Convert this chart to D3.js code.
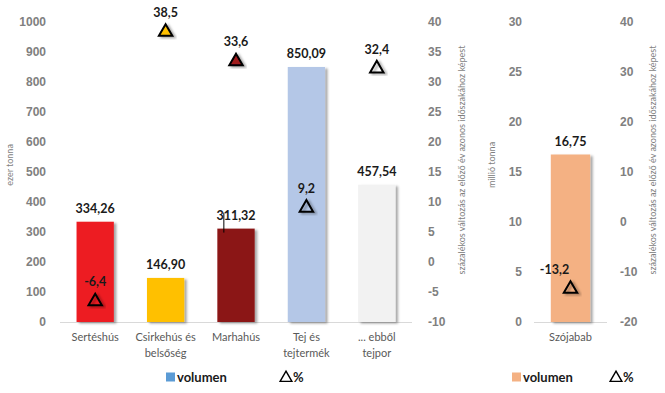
<!DOCTYPE html>
<html>
<head>
<meta charset="utf-8">
<script src="https://cdn.jsdelivr.net/npm/d3@7"></script>
<style>
  body { margin: 0; background: #fff; }
  svg { display: block; font-family: Lato, "Open Sans", sans-serif; }
  .tick text { fill: #808080; font-weight: bold; font-size: 12px; }
  .domain { display: none; }
</style>
</head>
<body>
<script>
// data
const categories = ["Sertéshús", "Csirkehús és belsőség", "Marhahús", "Tej és tejtermék", "... ebből tejpor"];
const categoryLines = [["Sertéshús"], ["Csirkehús és", "belsőség"], ["Marhahús"], ["Tej és", "tejtermék"], ["... ebből", "tejpor"]];
const volumes = [334.26, 146.90, 311.32, 850.09, 457.54];
const changes = [-6.4, 38.5, 33.6, 9.2, 32.4];
const barColors = ["#ed1c24", "#ffc000", "#8b1616", "#b4c7e7", "#f2f2f2"];
const markerFills = ["none", "#ffc000", "#a01a1f", "none", "none"];

const soyCategories = ["Szójabab"];
const soyVolumes = [16.75];
const soyChanges = [-13.2];

const volTicks = d3.range(0, 1001, 100);
const pctTicks = d3.range(-10, 41, 5);
const soyVolTicks = d3.range(0, 31, 5);
const soyPctTicks = d3.range(-20, 41, 10);

const W = 665, H = 393;
// Hungarian style: decimal comma, plain hyphen for minus
const comma = (f) => (v) => d3.format(f)(v).replace(".", ",").replace("\u2212", "-");
const plain = (v) => String(v);

const svg = d3.select("body").append("svg").attr("width", W).attr("height", H);

const defs = svg.append("defs");
defs.append("filter").attr("id", "shadow")
    .attr("x", "-20%").attr("y", "-20%").attr("width", "150%").attr("height", "150%")
  .append("feDropShadow")
    .attr("dx", 2.5).attr("dy", 1.5).attr("stdDeviation", 1.3)
    .attr("flood-color", "#000").attr("flood-opacity", 0.35);

function drawPanel(opt) {
  const g = svg.append("g");
  const x = d3.scaleBand().domain(opt.cats).range(opt.xRange)
      .paddingInner(opt.pad).paddingOuter(opt.pad / 2);
  const y = d3.scaleLinear().domain(opt.volDomain).range([322, 22]);
  const y2 = d3.scaleLinear().domain(opt.pctDomain).range([322, 22]);

  g.append("g").attr("transform", `translate(${opt.leftAxisX},0)`)
    .call(d3.axisLeft(y).tickValues(opt.volTicks).tickFormat(plain).tickSize(0).tickPadding(6));
  g.append("g").attr("transform", `translate(${opt.rightAxisX},0)`)
    .call(d3.axisRight(y2).tickValues(opt.pctTicks).tickFormat(plain).tickSize(0).tickPadding(6));

  // baseline
  g.append("line")
    .attr("x1", opt.xRange[0]).attr("x2", opt.xRange[1])
    .attr("y1", y(0) + 0.5).attr("y2", y(0) + 0.5)
    .attr("stroke", "#d9d9d9").attr("stroke-width", 1);

  // bars
  g.selectAll("rect.bar").data(opt.cats).enter().append("rect")
    .attr("class", "bar")
    .attr("x", d => x(d))
    .attr("y", (d, i) => y(opt.vols[i]))
    .attr("width", x.bandwidth())
    .attr("height", (d, i) => y(0) - y(opt.vols[i]))
    .attr("fill", (d, i) => opt.colors[i])
    .attr("filter", "url(#shadow)");

  // bar labels
  g.selectAll("text.vlab").data(opt.cats).enter().append("text")
    .attr("x", d => x(d) + x.bandwidth() / 2)
    .attr("y", (d, i) => y(opt.vols[i]) - 9)
    .attr("text-anchor", "middle")
    .attr("font-size", 12.5).attr("font-weight", "bold").attr("fill", "#1a1a1a")
    .text((d, i) => comma(".2f")(opt.vols[i]));

  // triangle markers
  const tri = d3.symbol().type(d3.symbolTriangle).size(78);
  g.selectAll("path.mk").data(opt.cats).enter().append("path")
    .attr("transform", (d, i) => `translate(${x(d) + x.bandwidth() / 2},${y2(opt.pcts[i]) + 1})`)
    .attr("d", tri)
    .attr("fill", (d, i) => opt.markerFills[i])
    .attr("stroke", "#000").attr("stroke-width", 2)
    .attr("stroke-linejoin", "miter")
    .attr("filter", "url(#shadow)");

  g.selectAll("text.plab").data(opt.cats).enter().append("text")
    .attr("x", d => x(d) + x.bandwidth() / 2 + opt.pctLabelDx)
    .attr("y", (d, i) => y2(opt.pcts[i]) - 14)
    .attr("text-anchor", "middle")
    .attr("font-size", 12.5).attr("font-weight", "bold").attr("fill", "#1a1a1a")
    .text((d, i) => comma(".1f")(opt.pcts[i]));

  // category labels
  const cl = g.selectAll("text.cat").data(opt.cats).enter().append("text")
    .attr("text-anchor", "middle")
    .attr("font-size", 11).attr("fill", "#595959")
    .attr("transform", d => `translate(${x(d) + x.bandwidth() / 2},341)`);
  cl.selectAll("tspan").data((d, i) => opt.lines[i]).enter().append("tspan")
    .attr("x", 0).attr("dy", (d, j) => j ? 16 : 0).text(d => d);

  // axis titles
  g.append("text")
    .attr("transform", `translate(${opt.leftTitleX},165) rotate(-90)`)
    .attr("text-anchor", "middle").attr("font-size", 9).attr("fill", "#7f7f7f")
    .text(opt.leftTitle);
  g.append("text")
    .attr("transform", `translate(${opt.rightTitleX},160) rotate(-90)`)
    .attr("text-anchor", "middle").attr("font-size", 9).attr("fill", "#7f7f7f")
    .text("százalékos változás az előző év azonos időszakához képest");

  // legend
  const lg = g.append("g").attr("transform", `translate(${opt.legendX},377)`);
  lg.append("rect").attr("x", 0).attr("y", -4.5).attr("width", 9).attr("height", 9)
    .attr("fill", opt.legendColor);
  lg.append("text").attr("x", 11).attr("y", 5)
    .attr("font-size", 13).attr("font-weight", "bold").attr("fill", "#1a1a1a")
    .text("volumen");
  lg.append("path").attr("transform", `translate(${opt.legendTriDx},1)`)
    .attr("d", d3.symbol().type(d3.symbolTriangle).size(60))
    .attr("fill", "none").attr("stroke", "#000").attr("stroke-width", 1.4);
  lg.append("text").attr("x", opt.legendTriDx + 7).attr("y", 5)
    .attr("font-size", 13).attr("font-weight", "bold").attr("fill", "#1a1a1a")
    .text("%");
  return { x, y };
}

const left = drawPanel({
  cats: categories, lines: categoryLines, vols: volumes, pcts: changes,
  colors: barColors, markerFills: markerFills,
  xRange: [60, 412], pad: 0.47,
  volDomain: [0, 1000], pctDomain: [-10, 40],
  volTicks: volTicks, pctTicks: pctTicks,
  leftAxisX: 52, rightAxisX: 422,
  leftTitle: "ezer tonna", leftTitleX: 13, rightTitleX: 465,
  legendX: 166, legendColor: "#5b9bd5", legendTriDx: 120, pctLabelDx: 0
});

drawPanel({
  cats: soyCategories, lines: [["Szójabab"]], vols: soyVolumes, pcts: soyChanges,
  colors: ["#f4b183"], markerFills: ["none"],
  xRange: [534, 607], pad: 0.46,
  volDomain: [0, 30], pctDomain: [-20, 40],
  volTicks: soyVolTicks, pctTicks: soyPctTicks,
  leftAxisX: 528, rightAxisX: 614,
  leftTitle: "millió tonna", leftTitleX: 495, rightTitleX: 656,
  legendX: 512, legendColor: "#f4b183", legendTriDx: 104, pctLabelDx: -16
});

// stray cursor mark over the Marhahús label
svg.append("line")
  .attr("x1", left.x("Marhahús") + 6.5).attr("x2", left.x("Marhahús") + 6.5)
  .attr("y1", left.y(volumes[2]) - 16).attr("y2", left.y(volumes[2]) + 4)
  .attr("stroke", "#000").attr("stroke-width", 1);
</script>
</body>
</html>
